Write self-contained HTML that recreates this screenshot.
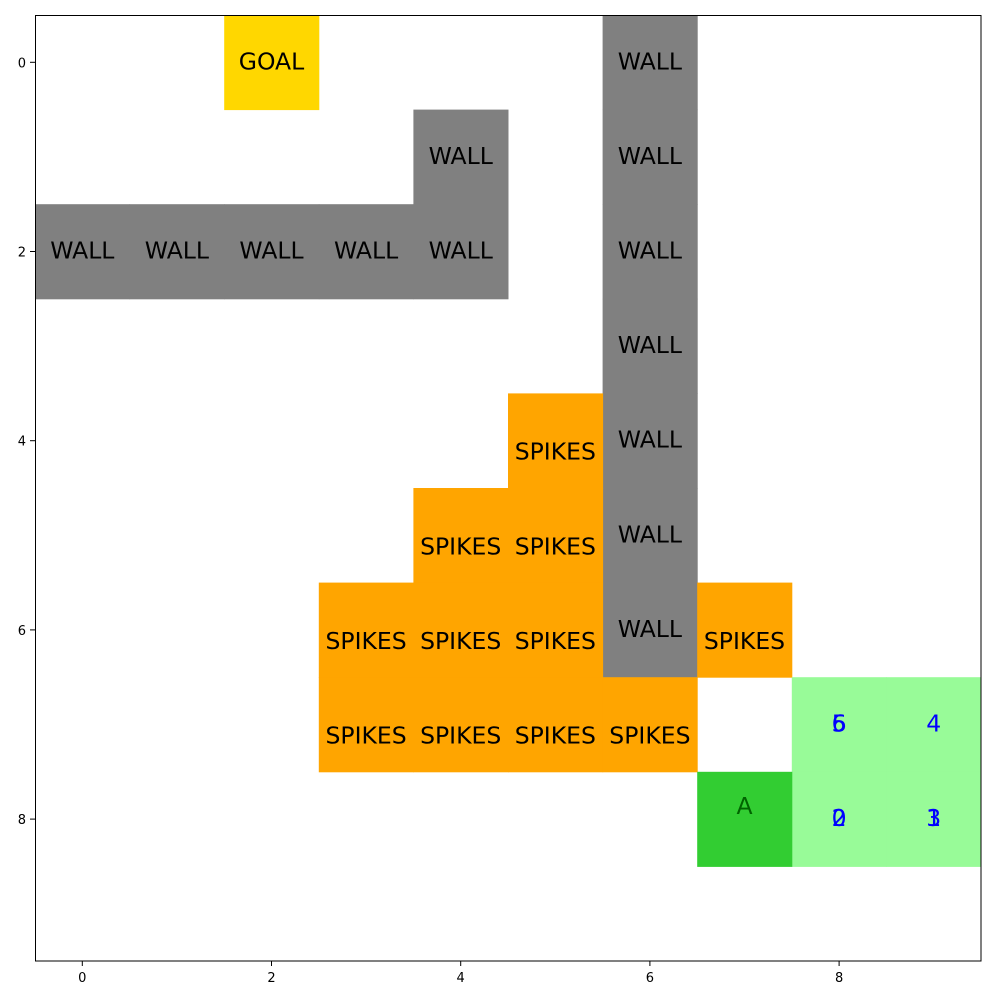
<!DOCTYPE html>
<html><head><meta charset="utf-8"><style>
body{margin:0;background:#fff;}
svg{display:block;font-family:"DejaVu Sans","Liberation Sans",sans-serif;}
</style></head><body>
<svg id="chart" width="1000" height="1000">
<rect x="0" y="0" width="1000" height="1000" fill="#fff"/>
<g id="cells"></g>
<g id="labels"></g>
<rect x="35.5" y="15.5" width="945.5" height="945.5" fill="none" stroke="#000" stroke-width="1"/>
<g id="ticks"></g>
</svg>
<script>
const walls=[[0,6],[1,4],[1,6],[2,0],[2,1],[2,2],[2,3],[2,4],[2,6],[3,6],[4,6],[5,6],[6,6]];
const spikes=[[4,5],[5,4],[5,5],[6,3],[6,4],[6,5],[6,7],[7,3],[7,4],[7,5],[7,6]];
const goal=[[0,2]];
const agent=[[8,7]];
const visited=[[7,8],[7,9],[8,8],[8,9]];
const stepLabels=[["0",8,8],["1",8,9],["2",8,8],["3",8,9],["4",7,9],["5",7,8],["6",7,8]];
const ticks=[0,2,4,6,8];
const x0=35,y0=15,cs=94.6,fs=23.5;
const sx=c=>x0+(c+0.5)*cs, sy=r=>y0+(r+0.5)*cs;
const NS="http://www.w3.org/2000/svg";
const cg=document.getElementById('cells'),lg=document.getElementById('labels'),tg=document.getElementById('ticks');
function cell(r,c,fill,name){const e=document.createElementNS(NS,'rect');
e.setAttribute('x',sx(c)-cs/2);e.setAttribute('y',sy(r)-cs/2);e.setAttribute('width',cs+0.5);e.setAttribute('height',cs+0.5);e.setAttribute('fill',fill);


cg.appendChild(e);}
function txt(x,y,s,fill,size,name,g,anchor){const e=document.createElementNS(NS,'text');
e.setAttribute('x',x);e.setAttribute('y',y);e.setAttribute('fill',fill);e.setAttribute('font-size',size);e.setAttribute('text-anchor',anchor||'middle');e.textContent=s;


g.appendChild(e);}
goal.forEach(([r,c])=>{cell(r,c,'#ffd700','goal-cell');txt(sx(c),sy(r)+7,'GOAL','#000',fs,'goal-label',lg);});
walls.forEach(([r,c])=>{cell(r,c,'#808080','wall-cell');txt(sx(c),sy(r)+7,'WALL','#000',fs,'wall-label',lg);});
spikes.forEach(([r,c])=>{cell(r,c,'#ffa500','spikes-cell');txt(sx(c),sy(r)+19,'SPIKES','#000',fs,'spikes-label',lg);});
visited.forEach(([r,c])=>{cell(r,c,'#98fb98','visited-cell');});
agent.forEach(([r,c])=>{cell(r,c,'#32cd32','agent-cell');txt(sx(c),sy(r)-5,'A','#006400',fs,'agent-label',lg);});
stepLabels.forEach(([s,r,c])=>{txt(sx(c),sy(r)+7,s,'#0000ff',fs,'step-label',lg);});
ticks.forEach(t=>{
 const l=document.createElementNS(NS,'line');l.setAttribute('x1',sx(t));l.setAttribute('x2',sx(t));l.setAttribute('y1',961);l.setAttribute('y2',966);l.setAttribute('stroke','#000');
 
 
 tg.appendChild(l);
 txt(sx(t),982,String(t),'#000',13,'x-tick-label',tg);
 const m=document.createElementNS(NS,'line');m.setAttribute('x1',30);m.setAttribute('x2',35);m.setAttribute('y1',sy(t));m.setAttribute('y2',sy(t));m.setAttribute('stroke','#000');
 
 
 tg.appendChild(m);
 txt(26,sy(t)+5,String(t),'#000',13,'y-tick-label',tg,'end');
});
</script>
</body></html>
